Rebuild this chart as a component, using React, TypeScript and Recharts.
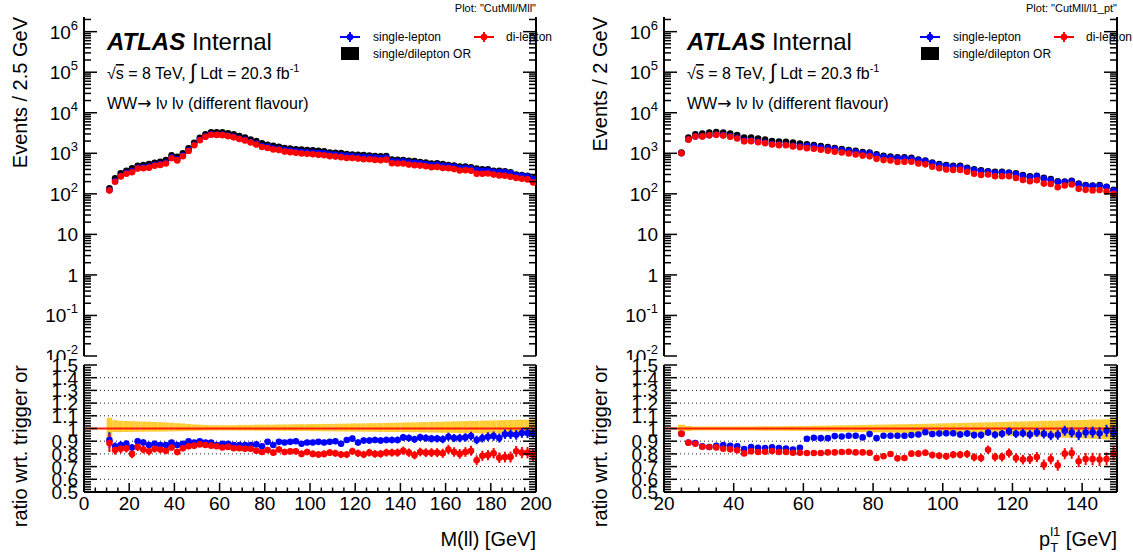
import React from 'react';
import { ComposedChart, Scatter, XAxis, YAxis, ErrorBar, ReferenceArea, ReferenceLine } from 'recharts';

const FONT = '"Liberation Sans", Arial, Helvetica, sans-serif';
const BLUE = '#0000ff';
const RED = '#ff0000';
const BAND = '#ffcc33';
const LINE_RED = '#ff1a00';

// ---- M(ll): 2.5 GeV bins from 10 to 200 ----
const mllBinStart = 10;
const mllBinWidth = 2.5;
const mllOrCounts = [
  136, 240, 320, 370, 425, 490, 510, 540, 585, 620,
  680, 890, 820, 1000, 1320, 1820, 2400, 2930, 3300, 3300,
  3300, 3100, 2930, 2660, 2460, 2190, 1990, 1760, 1630, 1530,
  1450, 1350, 1300, 1250, 1230, 1200, 1180, 1150, 1120, 1050,
  1030, 1010, 960, 930, 920, 900, 880, 860, 840, 860,
  700, 690, 680, 650, 640, 610, 590, 560, 570, 540,
  510, 500, 470, 470, 450, 420, 400, 400, 370, 370,
  360, 340, 300, 290, 280, 240,
];
const mllSingleRatio = [
  0.91, 0.86, 0.87, 0.88, 0.85, 0.9, 0.89, 0.87, 0.88, 0.87,
  0.87, 0.89, 0.87, 0.88, 0.9, 0.89, 0.9, 0.89, 0.89, 0.87,
  0.88, 0.88, 0.87, 0.87, 0.87, 0.87, 0.875, 0.86, 0.895, 0.87,
  0.895, 0.89, 0.895, 0.9, 0.88, 0.89, 0.89, 0.895, 0.89, 0.895,
  0.9, 0.88, 0.91, 0.92, 0.89, 0.905, 0.905, 0.91, 0.905, 0.91,
  0.91, 0.91, 0.93, 0.925, 0.915, 0.93, 0.925, 0.92, 0.92, 0.915,
  0.935, 0.925, 0.925, 0.93, 0.94, 0.91, 0.925, 0.935, 0.94, 0.925,
  0.955, 0.955, 0.95, 0.965, 0.965, 0.96,
];
const mllDiRatio = [
  0.885, 0.83, 0.84, 0.845, 0.8, 0.855, 0.835, 0.82, 0.84, 0.835,
  0.825, 0.85, 0.815, 0.845, 0.86, 0.865, 0.875, 0.87, 0.865, 0.86,
  0.85, 0.855, 0.845, 0.845, 0.84, 0.84, 0.825, 0.815, 0.83, 0.81,
  0.835, 0.815, 0.82, 0.82, 0.8, 0.815, 0.8, 0.795, 0.8, 0.81,
  0.805, 0.795, 0.795, 0.82, 0.805, 0.795, 0.81, 0.8, 0.8, 0.81,
  0.81, 0.81, 0.825, 0.81, 0.79, 0.815, 0.81, 0.81, 0.81, 0.805,
  0.835, 0.815, 0.8, 0.815, 0.825, 0.75, 0.785, 0.79, 0.805, 0.77,
  0.775, 0.775, 0.82, 0.81, 0.81, 0.79,
];
const mllSingleErr = [
  0.06, 0.03, 0.03, 0.028, 0.028, 0.026, 0.025, 0.025, 0.024, 0.024,
  0.022, 0.02, 0.02, 0.019, 0.018, 0.016, 0.015, 0.015, 0.015, 0.015,
  0.015, 0.015, 0.016, 0.016, 0.017, 0.017, 0.018, 0.018, 0.019, 0.019,
  0.02, 0.02, 0.02, 0.02, 0.021, 0.021, 0.021, 0.022, 0.022, 0.022,
  0.023, 0.023, 0.023, 0.024, 0.024, 0.024, 0.025, 0.025, 0.025, 0.026,
  0.026, 0.027, 0.027, 0.028, 0.028, 0.029, 0.029, 0.03, 0.03, 0.031,
  0.032, 0.032, 0.033, 0.033, 0.034, 0.034, 0.035, 0.035, 0.036, 0.036,
  0.037, 0.038, 0.038, 0.039, 0.04, 0.042,
];
const mllDiErr = [
  0.07, 0.036, 0.036, 0.034, 0.034, 0.032, 0.031, 0.031, 0.03, 0.03,
  0.028, 0.026, 0.026, 0.024, 0.023, 0.021, 0.02, 0.02, 0.02, 0.02,
  0.02, 0.02, 0.021, 0.021, 0.022, 0.022, 0.023, 0.023, 0.024, 0.024,
  0.025, 0.025, 0.025, 0.025, 0.026, 0.026, 0.026, 0.027, 0.027, 0.027,
  0.028, 0.028, 0.028, 0.029, 0.029, 0.029, 0.03, 0.03, 0.03, 0.031,
  0.031, 0.032, 0.032, 0.033, 0.033, 0.034, 0.034, 0.035, 0.035, 0.036,
  0.037, 0.037, 0.038, 0.038, 0.039, 0.039, 0.04, 0.04, 0.041, 0.041,
  0.042, 0.043, 0.043, 0.044, 0.045, 0.047,
];
const mllBandHi = [
  1.085, 1.065, 1.06, 1.06, 1.058, 1.056, 1.055, 1.054, 1.052, 1.05,
  1.048, 1.045, 1.042, 1.04, 1.036, 1.032, 1.03, 1.028, 1.026, 1.026,
  1.026, 1.026, 1.026, 1.028, 1.028, 1.028, 1.03, 1.03, 1.03, 1.03,
  1.032, 1.032, 1.032, 1.034, 1.034, 1.034, 1.035, 1.035, 1.036, 1.036,
  1.037, 1.038, 1.038, 1.04, 1.04, 1.04, 1.042, 1.042, 1.043, 1.044,
  1.045, 1.046, 1.047, 1.048, 1.048, 1.05, 1.05, 1.052, 1.053, 1.054,
  1.055, 1.056, 1.057, 1.058, 1.06, 1.06, 1.062, 1.063, 1.064, 1.065,
  1.066, 1.067, 1.068, 1.069, 1.07, 1.072,
];
const mllBandLo = [
  0.925, 0.972, 0.972, 0.973, 0.973, 0.974, 0.974, 0.975, 0.975, 0.976,
  0.976, 0.977, 0.978, 0.979, 0.98, 0.981, 0.982, 0.983, 0.984, 0.984,
  0.984, 0.984, 0.984, 0.983, 0.983, 0.983, 0.982, 0.982, 0.982, 0.982,
  0.981, 0.981, 0.981, 0.98, 0.98, 0.98, 0.979, 0.979, 0.978, 0.978,
  0.977, 0.977, 0.976, 0.976, 0.975, 0.975, 0.974, 0.974, 0.973, 0.973,
  0.972, 0.972, 0.971, 0.971, 0.97, 0.97, 0.969, 0.968, 0.968, 0.967,
  0.966, 0.966, 0.965, 0.964, 0.964, 0.963, 0.962, 0.962, 0.961, 0.96,
  0.96, 0.959, 0.958, 0.958, 0.957, 0.956,
];

// ---- leading lepton pT: 2 GeV bins from 24 to 150 ----
const ptBinStart = 24;
const ptBinWidth = 2;
const ptOrCounts = [
  1050, 2450, 2950, 3050, 3250, 3350, 3250, 3050, 2800, 2450,
  2430, 2300, 2170, 2000, 1950, 1930, 1830, 1740, 1660, 1600,
  1510, 1430, 1350, 1280, 1210, 1150, 1080, 1040, 950, 870,
  830, 800, 800, 770, 700, 660, 590, 545, 510, 490,
  490, 440, 405, 380, 360, 350, 350, 335, 320, 290,
  270, 280, 250, 230, 205, 200, 210, 180, 165, 160,
  165, 150, 125,
];
const ptSingleRatio = [
  0.958, 0.89, 0.885, 0.859, 0.854, 0.864, 0.869, 0.864, 0.859, 0.838,
  0.854, 0.849, 0.846, 0.851, 0.846, 0.843, 0.835, 0.849, 0.919, 0.927,
  0.924, 0.924, 0.94, 0.937, 0.943, 0.943, 0.93, 0.956, 0.924, 0.943,
  0.943, 0.943, 0.943, 0.948, 0.953, 0.971, 0.956, 0.961, 0.963, 0.963,
  0.953, 0.961, 0.948, 0.948, 0.969, 0.95, 0.958, 0.977, 0.958, 0.963,
  0.953, 0.969, 0.958, 0.945, 0.95, 0.982, 0.969, 0.95, 0.969, 0.971,
  0.963, 0.982, 0.969,
];
const ptDiRatio = [
  0.958, 0.888, 0.88, 0.856, 0.854, 0.851, 0.841, 0.836, 0.828, 0.804,
  0.82, 0.815, 0.817, 0.822, 0.815, 0.815, 0.809, 0.809, 0.807, 0.807,
  0.807, 0.812, 0.812, 0.815, 0.817, 0.812, 0.812, 0.809, 0.768, 0.781,
  0.799, 0.765, 0.768, 0.802, 0.802, 0.809, 0.791, 0.786, 0.781, 0.794,
  0.794, 0.799, 0.773, 0.768, 0.833, 0.775, 0.775, 0.807, 0.768, 0.755,
  0.76, 0.775, 0.715, 0.76, 0.71, 0.802, 0.807, 0.742, 0.76, 0.76,
  0.755, 0.76, 0.802,
];
const ptSingleErr = [
  0.012, 0.008, 0.008, 0.008, 0.008, 0.008, 0.008, 0.008, 0.009, 0.009,
  0.009, 0.009, 0.01, 0.01, 0.01, 0.01, 0.011, 0.011, 0.012, 0.012,
  0.013, 0.013, 0.014, 0.014, 0.015, 0.015, 0.016, 0.016, 0.017, 0.018,
  0.018, 0.019, 0.019, 0.02, 0.021, 0.021, 0.022, 0.023, 0.024, 0.024,
  0.025, 0.026, 0.027, 0.028, 0.028, 0.029, 0.03, 0.031, 0.032, 0.033,
  0.034, 0.035, 0.036, 0.037, 0.038, 0.039, 0.04, 0.042, 0.043, 0.044,
  0.046, 0.047, 0.05,
];
const ptDiErr = [
  0.014, 0.01, 0.01, 0.01, 0.01, 0.01, 0.01, 0.011, 0.011, 0.012,
  0.012, 0.012, 0.013, 0.013, 0.013, 0.014, 0.014, 0.015, 0.015, 0.016,
  0.016, 0.017, 0.017, 0.018, 0.019, 0.019, 0.02, 0.021, 0.021, 0.022,
  0.023, 0.023, 0.024, 0.025, 0.025, 0.026, 0.027, 0.028, 0.028, 0.029,
  0.03, 0.031, 0.032, 0.033, 0.033, 0.034, 0.035, 0.036, 0.037, 0.038,
  0.039, 0.04, 0.041, 0.042, 0.043, 0.044, 0.045, 0.047, 0.048, 0.049,
  0.05, 0.051, 0.053,
];
const ptBandHi = [
  1.03, 1.02, 1.015, 1.015, 1.015, 1.015, 1.015, 1.015, 1.016, 1.016,
  1.016, 1.017, 1.017, 1.018, 1.018, 1.018, 1.019, 1.019, 1.02, 1.021,
  1.022, 1.023, 1.024, 1.025, 1.026, 1.027, 1.028, 1.029, 1.03, 1.031,
  1.032, 1.033, 1.034, 1.035, 1.036, 1.037, 1.038, 1.04, 1.041, 1.042,
  1.044, 1.045, 1.046, 1.048, 1.049, 1.05, 1.052, 1.053, 1.055, 1.056,
  1.057, 1.058, 1.06, 1.061, 1.062, 1.064, 1.065, 1.066, 1.068, 1.07,
  1.071, 1.073, 1.075,
];
const ptBandLo = [
  0.955, 0.98, 0.985, 0.985, 0.985, 0.985, 0.985, 0.985, 0.984, 0.984,
  0.984, 0.983, 0.983, 0.982, 0.982, 0.982, 0.981, 0.981, 0.98, 0.979,
  0.978, 0.977, 0.976, 0.975, 0.974, 0.973, 0.972, 0.971, 0.97, 0.969,
  0.968, 0.966, 0.965, 0.964, 0.962, 0.961, 0.96, 0.958, 0.957, 0.955,
  0.954, 0.952, 0.951, 0.949, 0.947, 0.946, 0.944, 0.942, 0.94, 0.938,
  0.937, 0.935, 0.933, 0.931, 0.929, 0.927, 0.925, 0.923, 0.921, 0.919,
  0.917, 0.914, 0.912,
];

// ---- axes ----
const LOG_DOMAIN: [number, number] = [0.01, 2.3e6];
const RATIO_DOMAIN: [number, number] = [0.5, 1.5];
const ratioGrid = [0.6, 0.7, 0.8, 0.9, 1.1, 1.2, 1.3, 1.4];

const logTicks: number[] = [];
for (let e = -2; e <= 6; e++) {
  for (let m = 1; m <= 9; m++) {
    const v = Number((m * Math.pow(10, e)).toPrecision(3));
    if (v <= LOG_DOMAIN[1]) logTicks.push(v);
  }
}
const ratioTicks: number[] = [];
for (let i = 0; i <= 50; i++) ratioTicks.push(Math.round((0.5 + i * 0.02) * 100) / 100);

const steps = (a: number, b: number, s: number) => {
  const out: number[] = [];
  for (let v = a; v <= b + 1e-9; v += s) out.push(v);
  return out;
};
const mllTicks = steps(0, 200, 5);
const ptTicks = steps(20, 150, 5);

const axisLineStyle = { stroke: '#000', strokeWidth: 2 };
const TICK_W = 1.5;
const LABEL_SIZE = 19;
const LEFT_MARGIN = 6;

const isDecade = (v: number) => {
  const e = Math.round(Math.log10(v));
  return Math.abs(v / Math.pow(10, e) - 1) < 1e-6;
};
const isTenth = (v: number) => Math.abs(v * 10 - Math.round(v * 10)) < 1e-6;

// eslint-disable-next-line @typescript-eslint/no-explicit-any
const LogLeftTick = (p: any) => {
  const v = p.payload.value;
  const major = isDecade(v);
  const ax = p.x + LEFT_MARGIN;
  const e = Math.round(Math.log10(v));
  let label: React.ReactNode = null;
  if (major) {
    label =
      e === 0 ? '1' : e === 1 ? '10' : (
        <>
          10<tspan dy={-9} fontSize={13}>{e}</tspan>
        </>
      );
  }
  return (
    <g>
      <line x1={ax} x2={ax + (major ? 13 : 7)} y1={p.y} y2={p.y} stroke="#000" strokeWidth={TICK_W} />
      {major && (
        <text x={p.x} y={p.y + 7} textAnchor="end" fontSize={LABEL_SIZE} fontFamily={FONT} fill="#000">
          {label}
        </text>
      )}
    </g>
  );
};

// eslint-disable-next-line @typescript-eslint/no-explicit-any
const RatioLeftTick = (p: any) => {
  const v = p.payload.value;
  const major = isTenth(v);
  const ax = p.x + LEFT_MARGIN;
  return (
    <g>
      <line x1={ax} x2={ax + (major ? 13 : 7)} y1={p.y} y2={p.y} stroke="#000" strokeWidth={TICK_W} />
      {major && (
        <text x={p.x} y={p.y + 7} textAnchor="end" fontSize={LABEL_SIZE} fontFamily={FONT} fill="#000">
          {Math.abs(v - 1) < 1e-6 ? '1' : v.toFixed(1)}
        </text>
      )}
    </g>
  );
};

const rightTick = (isMajor: (v: number) => boolean) =>
  // eslint-disable-next-line @typescript-eslint/no-explicit-any
  (p: any) => {
    const major = isMajor(p.payload.value);
    return <line x1={p.x} x2={p.x - (major ? 13 : 7)} y1={p.y} y2={p.y} stroke="#000" strokeWidth={TICK_W} />;
  };

const xTick = (side: 'top' | 'bottom', majorLen: number, minorLen: number, labels: boolean) =>
  // eslint-disable-next-line @typescript-eslint/no-explicit-any
  (p: any) => {
    const v = p.payload.value;
    const major = v % 20 === 0;
    const len = major ? majorLen : minorLen;
    return (
      <g>
        <line x1={p.x} x2={p.x} y1={p.y} y2={side === 'bottom' ? p.y - len : p.y + len} stroke="#000" strokeWidth={TICK_W} />
        {labels && major && (
          <text x={p.x} y={p.y + 18} textAnchor="middle" fontSize={LABEL_SIZE} fontFamily={FONT} fill="#000">
            {v}
          </text>
        )}
      </g>
    );
  };

const dot = (color: string) =>
  // eslint-disable-next-line @typescript-eslint/no-explicit-any
  (p: any) => <circle cx={p.cx} cy={p.cy} r={3.3} fill={color} />;

interface PanelProps {
  left: number;
  chartW: number;
  binStart: number;
  binW: number;
  xDomain: [number, number];
  xTicks: number[];
  orCounts: number[];
  singleRatio: number[];
  diRatio: number[];
  singleErr: number[];
  diErr: number[];
  bandHi: number[];
  bandLo: number[];
  plotName: string;
  yTitle: string;
  xTitle: React.ReactNode;
}

function Panel(props: PanelProps) {
  const { left, chartW, binStart, binW, xDomain, xTicks, orCounts, singleRatio, diRatio } = props;
  const rows = orCounts.map((n, i) => ({
    lo: binStart + binW * i,
    x: binStart + binW * (i + 0.5),
    hi: binStart + binW * (i + 1),
    or: n,
    rs: singleRatio[i],
    rd: diRatio[i],
  }));
  const orPts = rows.map((r) => ({ x: r.x, y: r.or }));
  const singlePts = rows.map((r) => ({ x: r.x, y: r.or * r.rs }));
  const diPts = rows.map((r) => ({ x: r.x, y: r.or * r.rd }));
  const singleRatioPts = rows.map((r, i) => ({ x: r.x, y: r.rs, e: props.singleErr[i] }));
  const diRatioPts = rows.map((r, i) => ({ x: r.x, y: r.rd, e: props.diErr[i] }));
  const rightW = 24;

  const xAxes = (bottomLabels: boolean, majorLen: number, minorLen: number, bottomH: number) => [
    <XAxis
      key="xb"
      xAxisId={0}
      type="number"
      dataKey="x"
      domain={xDomain}
      allowDataOverflow
      ticks={xTicks}
      interval={0}
      orientation="bottom"
      height={bottomH}
      tickSize={0}
      tickMargin={0}
      tickLine={false}
      axisLine={axisLineStyle}
      tick={xTick('bottom', majorLen, minorLen, bottomLabels)}
    />,
    <XAxis
      key="xt"
      xAxisId="top"
      type="number"
      domain={xDomain}
      allowDataOverflow
      ticks={xTicks}
      interval={0}
      orientation="top"
      height={0}
      tickSize={0}
      tickMargin={0}
      tickLine={false}
      axisLine={axisLineStyle}
      tick={xTick('top', majorLen, minorLen, false)}
    />,
  ];

  return (
    <div style={{ position: 'absolute', left, top: 0, width: chartW, height: 552 }}>
      <div style={{ position: 'absolute', left: 0, top: 0 }}>
        <ComposedChart width={chartW} height={360} margin={{ top: 17, right: 0, bottom: 4, left: 0 }}>
          {xAxes(false, 10, 5, 0)}
          <YAxis
            yAxisId={0}
            type="number"
            dataKey="y"
            scale="log"
            domain={LOG_DOMAIN}
            allowDataOverflow
            ticks={logTicks}
            interval={0}
            width={84}
            tickSize={0}
            tickMargin={LEFT_MARGIN}
            tickLine={false}
            axisLine={axisLineStyle}
            tick={LogLeftTick}
          />
          <YAxis
            yAxisId="r"
            orientation="right"
            type="number"
            scale="log"
            domain={LOG_DOMAIN}
            allowDataOverflow
            ticks={logTicks}
            interval={0}
            width={rightW}
            tickSize={0}
            tickMargin={0}
            tickLine={false}
            axisLine={axisLineStyle}
            tick={rightTick(isDecade)}
          />
          <Scatter data={orPts} shape={dot('#000')} isAnimationActive={false} />
          <Scatter data={singlePts} shape={dot(BLUE)} isAnimationActive={false} />
          <Scatter data={diPts} shape={dot(RED)} isAnimationActive={false} />
        </ComposedChart>
      </div>

      <div style={{ position: 'absolute', left: 0, top: 340 }}>
        <ComposedChart width={chartW} height={212} margin={{ top: 25, right: 0, bottom: 0, left: 0 }}>
          {xAxes(true, 9, 4.5, 60)}
          <YAxis
            yAxisId={0}
            type="number"
            dataKey="y"
            domain={RATIO_DOMAIN}
            allowDataOverflow
            ticks={ratioTicks}
            interval={0}
            width={84}
            tickSize={0}
            tickMargin={LEFT_MARGIN}
            tickLine={false}
            axisLine={axisLineStyle}
            tick={RatioLeftTick}
          />
          <YAxis
            yAxisId="r"
            orientation="right"
            type="number"
            domain={RATIO_DOMAIN}
            allowDataOverflow
            ticks={ratioTicks}
            interval={0}
            width={rightW}
            tickSize={0}
            tickMargin={0}
            tickLine={false}
            axisLine={axisLineStyle}
            tick={rightTick(isTenth)}
          />
          {rows.map((r, i) => (
            <ReferenceArea
              key={`band${i}`}
              x1={r.lo}
              x2={r.hi}
              y1={props.bandLo[i]}
              y2={props.bandHi[i]}
              fill={BAND}
              fillOpacity={1}
              stroke="none"
            />
          ))}
          {ratioGrid.map((g) => (
            <ReferenceLine key={`g${g}`} y={g} stroke="#222" strokeWidth={1} strokeDasharray="1 3" />
          ))}
          <ReferenceLine y={1} stroke={LINE_RED} strokeWidth={2} />
          <Scatter data={singleRatioPts} shape={dot(BLUE)} isAnimationActive={false}>
            <ErrorBar dataKey="e" direction="y" width={0} stroke={BLUE} strokeWidth={2} />
          </Scatter>
          <Scatter data={diRatioPts} shape={dot(RED)} isAnimationActive={false}>
            <ErrorBar dataKey="e" direction="y" width={0} stroke={RED} strokeWidth={2} />
          </Scatter>
        </ComposedChart>
      </div>

      <svg
        width={chartW}
        height={552}
        style={{ position: 'absolute', left: 0, top: 0, pointerEvents: 'none', fontFamily: FONT }}
      >
        <text x={chartW - 24} y={12} textAnchor="end" fontSize={11}>
          {props.plotName}
        </text>
        <text transform="translate(27,17) rotate(-90)" textAnchor="end" fontSize={20}>
          {props.yTitle}
        </text>
        <text transform="translate(27,365) rotate(-90)" textAnchor="end" fontSize={20}>
          ratio wrt. trigger or
        </text>
        <text x={chartW - 24} y={546} textAnchor="end" fontSize={20}>
          {props.xTitle}
        </text>

        <text x={107} y={50} fontSize={24}>
          <tspan fontWeight="bold" fontStyle="italic">ATLAS</tspan>
          <tspan> Internal</tspan>
        </text>
        <text x={107} y={79} fontSize={16}>
          √<tspan style={{ textDecoration: 'overline' }}>s</tspan> = 8 TeV, <tspan fontSize={21}>∫</tspan> Ldt = 20.3 fb
          <tspan dy={-7} fontSize={11}>-1</tspan>
        </text>
        <text x={107} y={109} fontSize={16}>
          WW<tspan fontFamily='"DejaVu Sans", sans-serif' fontSize={17}>→</tspan> lν lν (different flavour)
        </text>

        <line x1={340} x2={360} y1={37} y2={37} stroke={BLUE} strokeWidth={2} />
        <line x1={350} x2={350} y1={32} y2={42} stroke={BLUE} strokeWidth={2} />
        <circle cx={350} cy={37} r={3.3} fill={BLUE} />
        <text x={373} y={41} fontSize={12}>single-lepton</text>

        <line x1={474} x2={494} y1={37} y2={37} stroke={RED} strokeWidth={2} />
        <line x1={484} x2={484} y1={32} y2={42} stroke={RED} strokeWidth={2} />
        <circle cx={484} cy={37} r={3.3} fill={RED} />
        <text x={506} y={41} fontSize={12}>di-lepton</text>

        <rect x={341} y={47} width={18} height={13} fill="#000" />
        <text x={373} y={58} fontSize={12}>single/dilepton OR</text>
      </svg>
    </div>
  );
}

export default function App() {
  return (
    <div
      style={{
        position: 'absolute',
        left: 0,
        top: 0,
        width: 1133,
        height: 552,
        background: '#fff',
        fontFamily: FONT,
        overflow: 'hidden',
      }}
    >
      <Panel
        left={0}
        chartW={560}
        binStart={mllBinStart}
        binW={mllBinWidth}
        xDomain={[0, 200]}
        xTicks={mllTicks}
        orCounts={mllOrCounts}
        singleRatio={mllSingleRatio}
        diRatio={mllDiRatio}
        singleErr={mllSingleErr}
        diErr={mllDiErr}
        bandHi={mllBandHi}
        bandLo={mllBandLo}
        plotName={'Plot: "CutMll/Mll"'}
        yTitle="Events / 2.5 GeV"
        xTitle="M(ll) [GeV]"
      />
      <Panel
        left={580}
        chartW={561}
        binStart={ptBinStart}
        binW={ptBinWidth}
        xDomain={[20, 150]}
        xTicks={ptTicks}
        orCounts={ptOrCounts}
        singleRatio={ptSingleRatio}
        diRatio={ptDiRatio}
        singleErr={ptSingleErr}
        diErr={ptDiErr}
        bandHi={ptBandHi}
        bandLo={ptBandLo}
        plotName={'Plot: "CutMll/l1_pt"'}
        yTitle="Events / 2 GeV"
        xTitle={
          <>
            p<tspan dy={-10} fontSize={13}>l1</tspan>
            <tspan dx={-10} dy={16} fontSize={13}>T</tspan>
            <tspan dx={2} dy={-6}> [GeV]</tspan>
          </>
        }
      />
    </div>
  );
}
